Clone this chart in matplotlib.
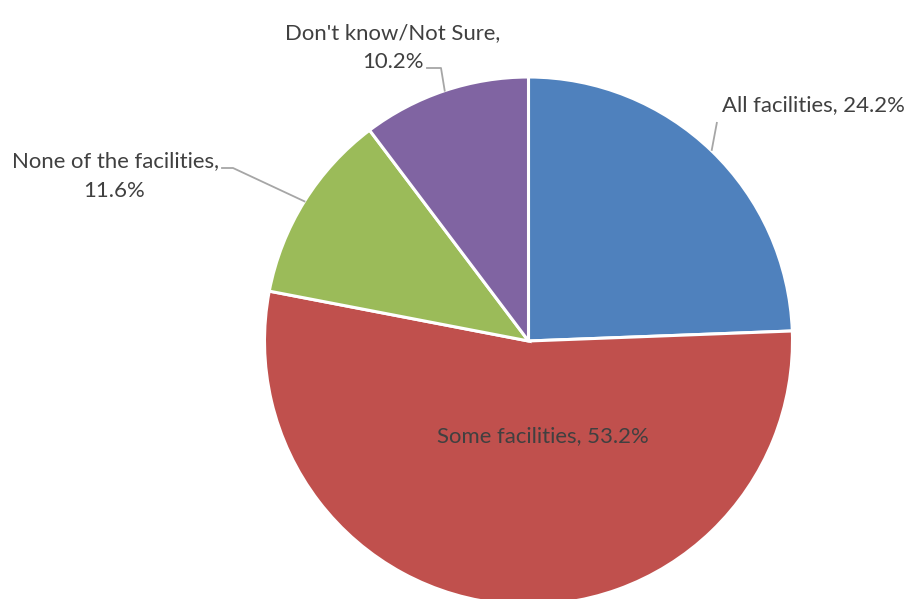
import matplotlib
matplotlib.use("Agg")
import matplotlib.pyplot as plt
import numpy as np

# Survey responses
categories = ["All facilities", "Some facilities", "None of the facilities", "Don't know/Not Sure"]
shares = [24.2, 53.2, 11.6, 10.2]
colors = ["#4F81BD", "#C0504D", "#9BBB59", "#8064A2"]

W, H = 907, 599
fig = plt.figure(figsize=(W / 100, H / 100), dpi=100)
ax = fig.add_axes([0, 0, 1, 1])

cx, cy, r = 528.5, H - 341, 264
wedges, _ = ax.pie(shares, colors=colors, startangle=90, counterclock=False,
                   center=(cx, cy), radius=r, frame=True,
                   wedgeprops=dict(edgecolor="white", linewidth=2.2))
ax.set_xlim(0, W)
ax.set_ylim(0, H)
ax.set_aspect("equal")
ax.axis("off")

font = dict(family=["Lato", "DejaVu Sans"], color="#404040", fontsize=15.9)
line_col = "#A6A6A6"


def yy(y):
    return H - y


def edge_point(w):
    ang = np.deg2rad((w.theta1 + w.theta2) / 2)
    return cx + r * np.cos(ang), cy + r * np.sin(ang)


# All facilities
ex, ey = edge_point(wedges[0])
ax.plot([ex, 717], [ey, yy(122)], color=line_col, lw=1.3, solid_capstyle="butt")
ax.text(722, yy(111), f"{categories[0]}, {shares[0]}%", ha="left", va="baseline", **font)

# Some facilities (inside)
ax.text(543, yy(442), f"{categories[1]}, {shares[1]}%", ha="center", va="baseline", **font)

# None of the facilities
ex, ey = edge_point(wedges[2])
ax.plot([222, 233, ex], [yy(168), yy(168), ey], color=line_col, lw=1.3)
ax.text(115, yy(167), f"{categories[2]},", ha="center", va="baseline", **font)
ax.text(114, yy(197), f"{shares[2]}%", ha="center", va="baseline", **font)

# Don't know / Not Sure
ex, ey = edge_point(wedges[3])
ax.plot([427, 441, ex], [yy(68), yy(68), ey], color=line_col, lw=1.3)
ax.text(393, yy(39), f"{categories[3]},", ha="center", va="baseline", **font)
ax.text(393, yy(68), f"{shares[3]}%", ha="center", va="baseline", **font)

fig.savefig("out.png", dpi=100, facecolor="white")
